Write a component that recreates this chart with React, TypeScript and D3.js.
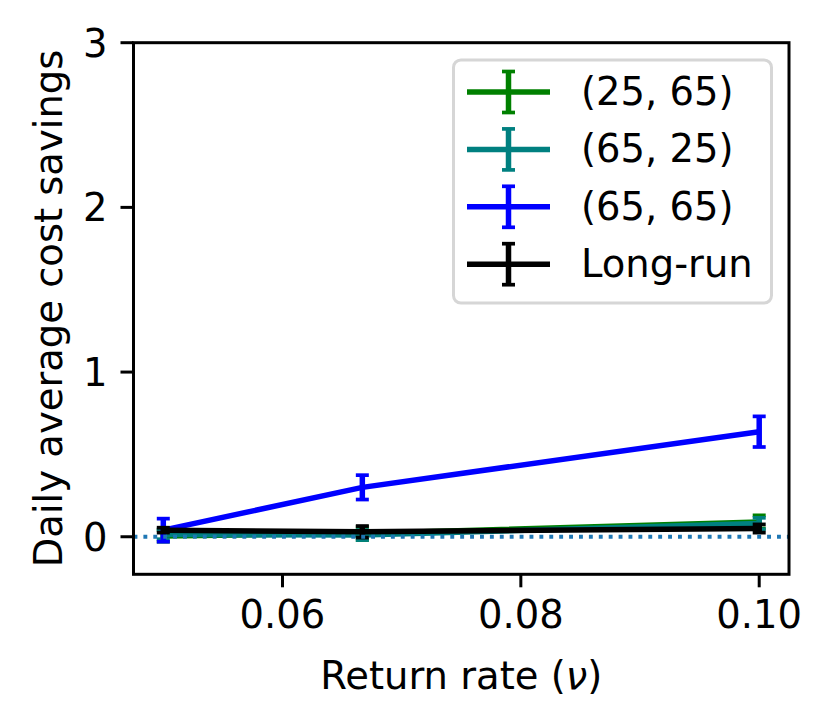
import * as d3 from "d3";

// return rates on the x axis
const returnRates = [0.05, 0.0667, 0.1];

const seriesNames = ["(25, 65)", "(65, 25)", "(65, 65)", "Long-run"];
const seriesColors = ["#008000", "#008080", "#0000ff", "#000000"];

// mean daily savings and error half-widths, one row per series
const meanSavings = [
  [0.005, 0.02, 0.09],
  [0.015, 0.01, 0.08],
  [0.04, 0.3, 0.638],
  [0.04, 0.03, 0.05],
];
const errSavings = [
  [0.035, 0.04, 0.04],
  [0.03, 0.03, 0.035],
  [0.07, 0.074, 0.093],
  [0.015, 0.035, 0.025],
];

const xTicks = [0.06, 0.08, 0.1];
const yTicks = [0, 1, 2, 3];

const W = 832;
const H = 722;
const left = 133.5;
const right = 789;
const top = 42.7;
const bottom = 574.3;
const font = "'DejaVu Sans', sans-serif";
const fs = 38.5;

export default function App() {
  const x = d3.scaleLinear().domain([0.0475, 0.1025]).range([left, right]);
  const y = d3.scaleLinear().domain([-0.228, 3]).range([bottom, top]);
  const line = d3
    .line<number>()
    .x((_, i) => x(returnRates[i]))
    .y((d) => y(d));

  const lw = 5.5;
  const cap = 6.5;

  return (
    <svg
      width={W}
      height={H}
      style={{ position: "absolute", left: 0, top: 0, background: "#fff" }}
      fontFamily={font}
    >
      <rect width={W} height={H} fill="#fff" />
      {/* series */}
      {meanSavings.map((vals, s) => (
        <g key={s} stroke={seriesColors[s]} fill="none">
          <path d={line(vals) ?? ""} strokeWidth={lw} />
          {vals.map((v, i) => {
            const cx = x(returnRates[i]);
            const y1 = y(v - errSavings[s][i]);
            const y2 = y(v + errSavings[s][i]);
            return (
              <g key={i}>
                <line x1={cx} x2={cx} y1={y1} y2={y2} strokeWidth={lw} />
                <line x1={cx - cap} x2={cx + cap} y1={y1} y2={y1} strokeWidth={3.7} />
                <line x1={cx - cap} x2={cx + cap} y1={y2} y2={y2} strokeWidth={3.7} />
              </g>
            );
          })}
        </g>
      ))}
      {/* zero reference */}
      <line
        x1={left}
        x2={right}
        y1={y(0)}
        y2={y(0)}
        stroke="#1f77b4"
        strokeWidth={3.9}
        strokeDasharray="3.9 6"
      />
      {/* axes frame */}
      <rect
        x={left}
        y={top}
        width={right - left}
        height={bottom - top}
        fill="none"
        stroke="#000"
        strokeWidth={3}
      />
      {xTicks.map((t) => (
        <g key={t}>
          <line x1={x(t)} x2={x(t)} y1={bottom} y2={bottom + 13} stroke="#000" strokeWidth={3} />
          <text x={x(t)} y={bottom + 54} textAnchor="middle" fontSize={fs}>
            {d3.format(".2f")(t)}
          </text>
        </g>
      ))}
      {yTicks.map((t) => (
        <g key={t}>
          <line x1={left - 13} x2={left} y1={y(t)} y2={y(t)} stroke="#000" strokeWidth={3} />
          <text x={left - 26} y={y(t) + 14} textAnchor="end" fontSize={fs}>
            {t}
          </text>
        </g>
      ))}
      <text x={(left + right) / 2} y={689} textAnchor="middle" fontSize={fs}>
        Return rate (<tspan fontStyle="italic">ν</tspan>)
      </text>
      <text
        transform={`translate(62, ${(top + bottom) / 2}) rotate(-90)`}
        textAnchor="middle"
        fontSize={fs}
      >
        Daily average cost savings
      </text>
      {/* legend */}
      <rect
        x={453.5}
        y={60}
        width={318}
        height={243}
        rx={7.4}
        fill="#fff"
        fillOpacity={0.8}
        stroke="#d6d6d6"
        strokeWidth={3}
      />
      {seriesNames.map((name, s) => {
        const ry = 92 + s * 57.4;
        return (
          <g key={name}>
            <g stroke={seriesColors[s]}>
              <line x1={467} x2={550} y1={ry} y2={ry} strokeWidth={lw} />
              <line x1={508.5} x2={508.5} y1={ry - 20.5} y2={ry + 20.5} strokeWidth={lw} />
              <line x1={508.5 - cap} x2={508.5 + cap} y1={ry - 20.5} y2={ry - 20.5} strokeWidth={3.7} />
              <line x1={508.5 - cap} x2={508.5 + cap} y1={ry + 20.5} y2={ry + 20.5} strokeWidth={3.7} />
            </g>
            <text x={581} y={ry + 13} fontSize={fs}>
              {name}
            </text>
          </g>
        );
      })}
    </svg>
  );
}
